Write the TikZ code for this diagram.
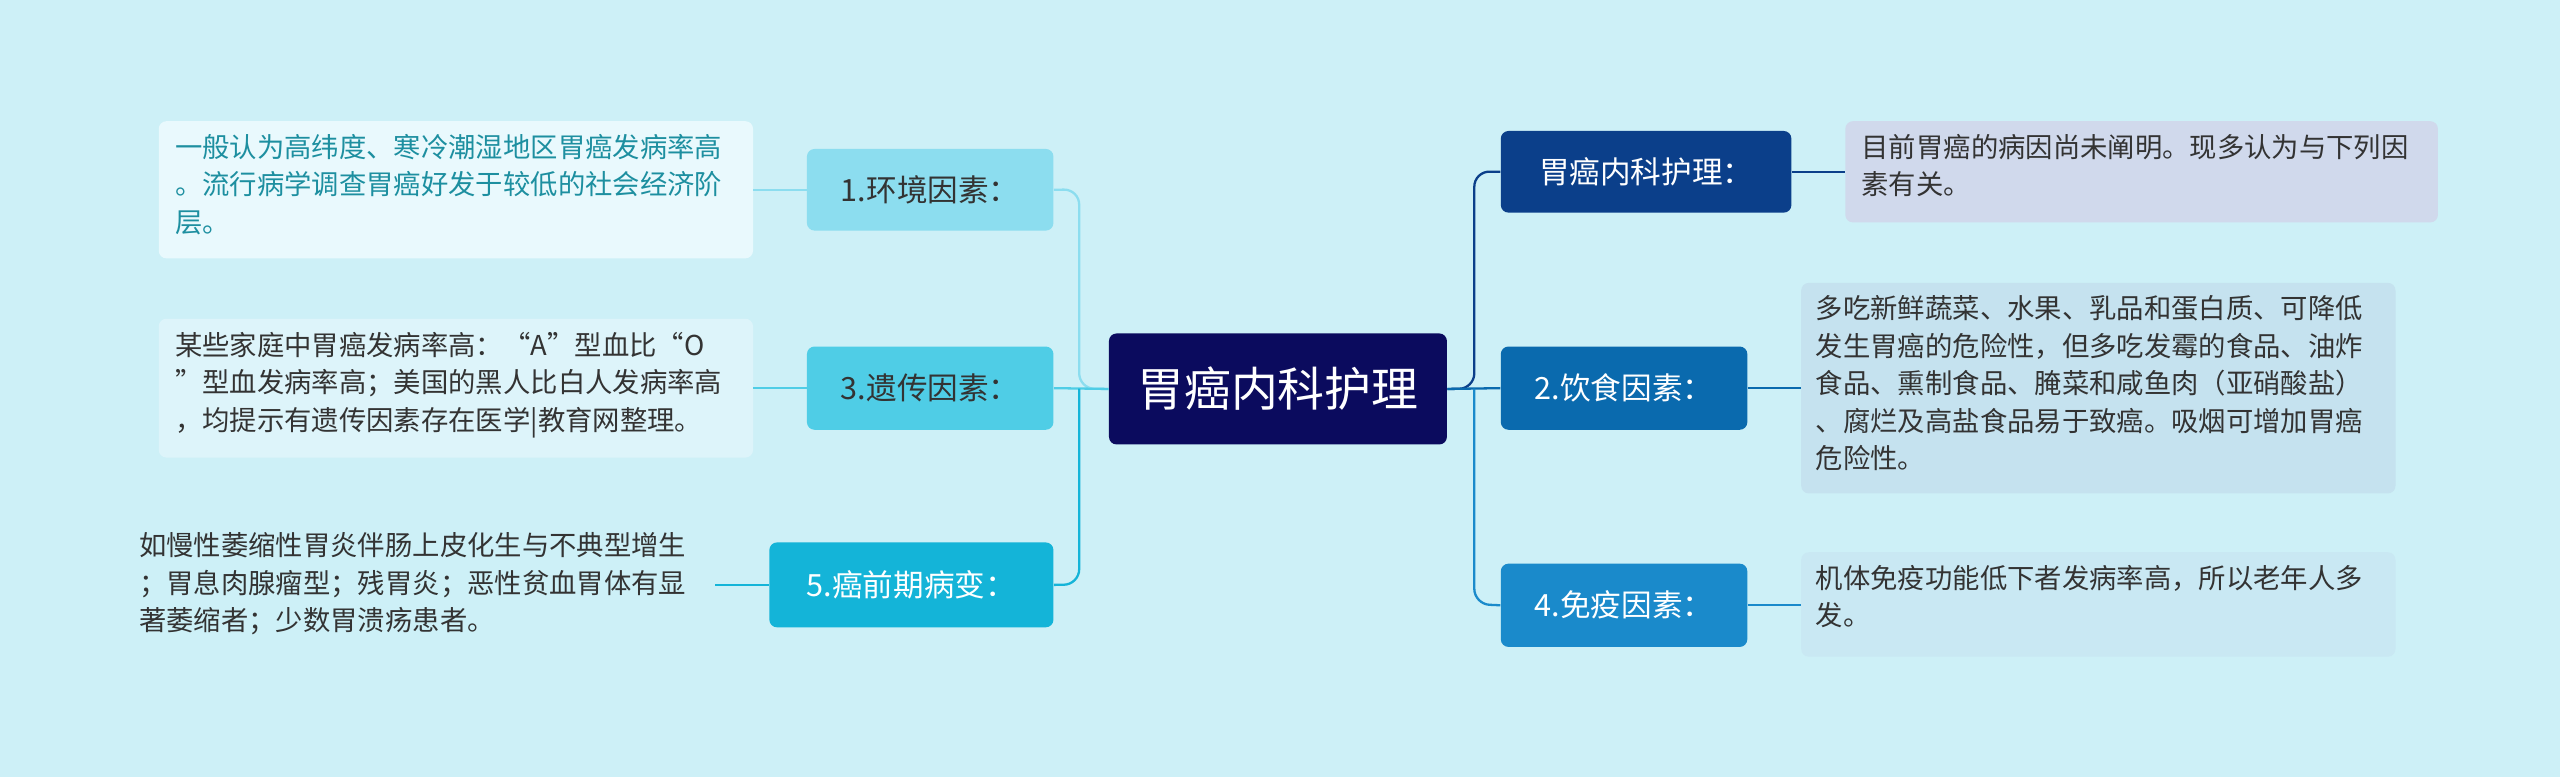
\documentclass[tikz,border=0pt]{standalone}
\usepackage{fontspec}
\setmainfont{Noto Sans CJK SC}
\definecolor{bgc}{HTML}{CDF0F7}
\definecolor{rootc}{HTML}{0B0B5E}
\definecolor{ra}{HTML}{0B3F8A}
\definecolor{rb}{HTML}{0A6AAE}
\definecolor{rc}{HTML}{1A8ACB}
\definecolor{la}{HTML}{8CDDEF}
\definecolor{lb}{HTML}{4FCDE6}
\definecolor{lc}{HTML}{14B4D8}
\definecolor{leafra}{HTML}{D0D9EC}
\definecolor{leafrb}{HTML}{C5E2EF}
\definecolor{leafrc}{HTML}{C9E8F3}
\definecolor{leafla}{HTML}{E9F9FD}
\definecolor{leaflb}{HTML}{DDF4FA}
\definecolor{tealtxt}{HTML}{1D8FA0}
\definecolor{graytxt}{HTML}{333333}
\tikzset{
  box/.style={rounded corners=4pt,inner sep=0pt,anchor=north west,font=\fontsize{16}{19}\selectfont},
  leaf/.style={rounded corners=4pt,anchor=north west,inner sep=0pt,align=left,
    font=\fontsize{14.3}{19.6}\selectfont,text=graytxt},
  link/.style={line width=1.2pt,rounded corners=8pt}
}
\newcommand\boxat[6]{% name, x, y, w, h, style
  \node[box,minimum width=#4*0.03cm,minimum height=#5*0.03cm,#6] (#1) at (#2,#3) {};}
\begin{document}
\begin{tikzpicture}[x=0.03cm,y=-0.03cm]
\fill[bgc] (0,0) rectangle (1568,476);
% root
\boxat{root}{679}{204}{207}{68}{fill=rootc}
\node[text=white,font=\fontsize{24.5}{28}\selectfont] at (root) {胃癌内科护理};
% right branches
\boxat{nurse}{919}{80}{178}{50}{fill=ra}
\node[text=white,font=\fontsize{16}{19}\selectfont] at (nurse) {胃癌内科护理：};
\boxat{diet}{919}{212}{151}{51}{fill=rb}
\node[text=white,font=\fontsize{16}{19}\selectfont] at (diet) {2.饮食因素：};
\boxat{immune}{919}{345}{151}{51}{fill=rc}
\node[text=white,font=\fontsize{16}{19}\selectfont] at (immune) {4.免疫因素：};
% left branches
\boxat{env}{494}{91}{151}{50}{fill=la}
\node[text=graytxt,font=\fontsize{16}{19}\selectfont] at (env) {1.环境因素：};
\boxat{gene}{494}{212}{151}{51}{fill=lb}
\node[text=graytxt,font=\fontsize{16}{19}\selectfont] at (gene) {3.遗传因素：};
\boxat{pre}{471}{332}{174}{52}{fill=lc}
\node[text=white,font=\fontsize{16}{19}\selectfont] at (pre) {5.癌前期病变：};
% leaves
\boxat{nurseL}{1130}{74}{363}{62}{fill=leafra}
\node[leaf] at (1140,82) {目前胃癌的病因尚未阐明。现多认为与下列因\\素有关。};
\boxat{dietL}{1103}{173}{364}{129}{fill=leafrb}
\node[leaf] at (1112,181) {多吃新鲜蔬菜、水果、乳品和蛋白质、可降低\\发生胃癌的危险性，但多吃发霉的食品、油炸\\食品、熏制食品、腌菜和咸鱼肉（亚硝酸盐）\\、腐烂及高盐食品易于致癌。吸烟可增加胃癌\\危险性。};
\boxat{immuneL}{1103}{338}{364}{64}{fill=leafrc}
\node[leaf] at (1112,346) {机体免疫功能低下者发病率高，所以老年人多\\发。};
\boxat{envL}{97}{74}{364}{84}{fill=leafla}
\node[leaf,text=tealtxt] at (107,82) {一般认为高纬度、寒冷潮湿地区胃癌发病率高\\。流行病学调查胃癌好发于较低的社会经济阶\\层。};
\boxat{geneL}{97}{195}{364}{85}{fill=leaflb}
\node[leaf] at (107,203) {某些家庭中胃癌发病率高：“A”型血比“O\\”型血发病率高；美国的黑人比白人发病率高\\，均提示有遗传因素存在医学|教育网整理。};
\coordinate (preL) at (438,357);
\node[leaf] at (85,326) {如慢性萎缩性胃炎伴肠上皮化生与不典型增生\\；胃息肉腺瘤型；残胃炎；恶性贫血胃体有显\\著萎缩者；少数胃溃疡患者。};
% links
\draw[link,ra] (root.east) -- (903,238) -- (903,105) -- (nurse.west);
\draw[link,rb] (root.east) -- (diet.west);
\draw[link,rc] (903,238) -- (903,370) -- (immune.west);
\draw[link,la] (root.west) -- (661,238) -- (661,116) -- (env.east);
\draw[link,lb] (root.west) -- (gene.east);
\draw[link,lc] (661,238) -- (661,358) -- (pre.east);
\draw[link,ra] (nurse.east) -- (nurseL.west|-nurse.east);
\draw[link,rb] (diet.east) -- (dietL.west|-diet.east);
\draw[link,rc] (immune.east) -- (immuneL.west|-immune.east);
\draw[link,la] (env.west) -- (envL.east|-env.west);
\draw[link,lb] (gene.west) -- (geneL.east|-gene.west);
\draw[link,lc] (pre.west) -- (preL|-pre.west);
\end{tikzpicture}
\end{document}
